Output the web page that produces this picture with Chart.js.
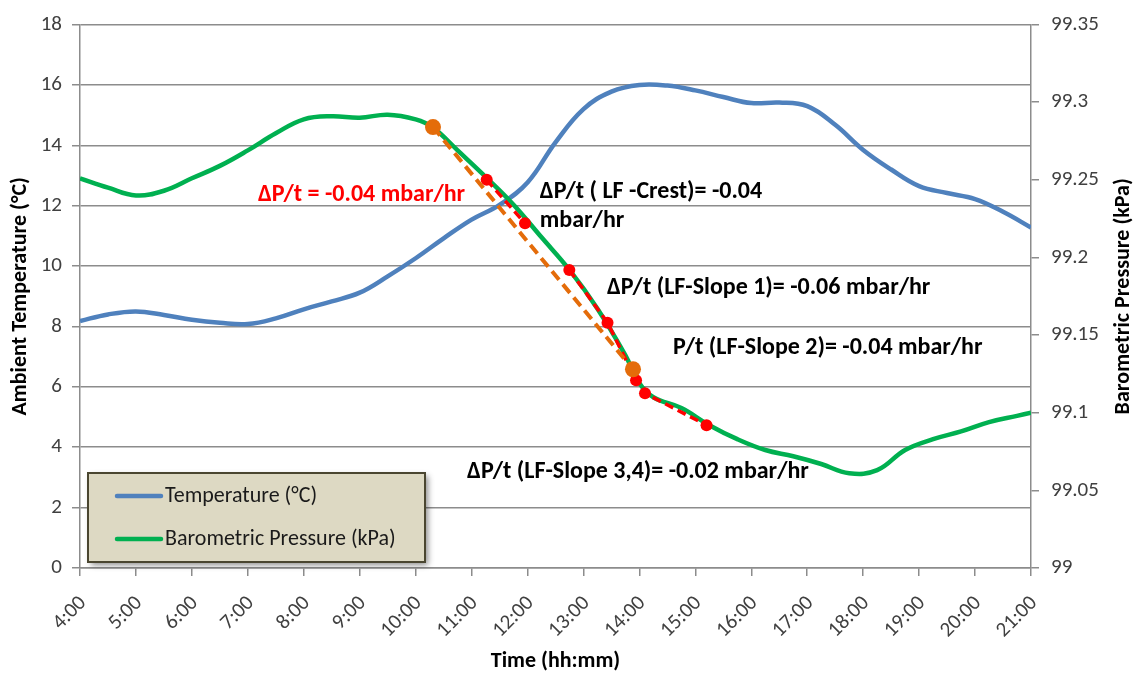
<!DOCTYPE html>
<html>
<head>
<meta charset="utf-8">
<script src="https://cdn.jsdelivr.net/npm/chart.js@4.4.1/dist/chart.umd.min.js"></script>
<style>
  html, body { margin: 0; padding: 0; background: #ffffff; }
  #wrap { width: 1136px; height: 675px; }
</style>
</head>
<body>
<div id="wrap"><canvas id="chart" width="1136" height="675"></canvas></div>
<script>
// ---- Data -------------------------------------------------------------
const timeTickLabels = ['4:00','5:00','6:00','7:00','8:00','9:00','10:00','11:00','12:00',
  '13:00','14:00','15:00','16:00','17:00','18:00','19:00','20:00','21:00'];
const tempTicks = [0, 2, 4, 6, 8, 10, 12, 14, 16, 18];
const pressureTicks = [99, 99.05, 99.1, 99.15, 99.2, 99.25, 99.3, 99.35];

// Ambient temperature (°C) against time of day (hours)
const tempHours = [4, 4.5, 5, 5.5, 6, 6.5, 7, 7.5, 8, 8.5, 9, 9.5, 10, 10.5, 11, 11.5, 12,
  12.5, 13, 13.5, 14, 14.5, 15, 15.5, 16, 16.5, 17, 17.5, 18, 18.5, 19, 19.5, 20, 20.5, 21];
const tempValues = [8.18, 8.40, 8.50, 8.38, 8.22, 8.12, 8.08, 8.27, 8.57, 8.83, 9.12, 9.66,
  10.26, 10.92, 11.54, 12.03, 12.77, 14.1, 15.2, 15.78, 16.0, 15.98, 15.82, 15.6, 15.4,
  15.42, 15.3, 14.68, 13.85, 13.2, 12.65, 12.42, 12.22, 11.8, 11.28];

// Barometric pressure (kPa) against time of day (hours)
const pressureHours = [4, 4.5, 5, 5.5, 6, 6.5, 7, 7.5, 8, 8.5, 9, 9.5, 10, 10.3, 10.75, 11.25,
  11.75, 12.25, 12.75, 13.25, 13.75, 14, 14.25, 14.75, 15.25, 15.75, 16.25, 16.75, 17.25,
  17.75, 18.25, 18.75, 19.25, 19.75, 20.25, 20.75, 21];
const pressureValues = [99.251, 99.245, 99.240, 99.243, 99.251, 99.259, 99.269, 99.280,
  99.289, 99.291, 99.290, 99.292, 99.289, 99.284, 99.269, 99.252, 99.234, 99.213, 99.192,
  99.167, 99.137, 99.119, 99.110, 99.103, 99.092, 99.083, 99.076, 99.072, 99.067, 99.061,
  99.063, 99.076, 99.083, 99.088, 99.094, 99.098, 99.100];

// Overall fit of the falling front (end points)
const frontFitHours = [10.31, 13.885];
const frontFitPressure = [99.284, 99.128];

// Segment fits: crest, slope 1, slope 2, slopes 3-4 (null breaks the line)
const segmentHours = [11.27, 11.955, 12.35, 12.747, 13.43, 13.94, 14.10, 15.20];
const segmentPressure = [99.250, 99.222, null, 99.192, 99.158, 99.121, 99.1125, 99.092];

// Rate annotations (placed in time / temperature-axis units)
const rateNotes = [
  { text: 'ΔP/t = -0.04 mbar/hr', hour: 7.18, level: 12.36, color: '#ff0000' },
  { text: 'ΔP/t ( LF -Crest)= -0.04', hour: 12.22, level: 12.46, color: '#000000' },
  { text: 'mbar/hr', hour: 12.22, level: 11.5, color: '#000000' },
  { text: 'ΔP/t (LF-Slope 1)= -0.06 mbar/hr', hour: 13.42, level: 9.26, color: '#000000' },
  { text: 'P/t (LF-Slope 2)= -0.04 mbar/hr', hour: 14.6, level: 7.29, color: '#000000' },
  { text: 'ΔP/t (LF-Slope 3,4)= -0.02 mbar/hr', hour: 10.92, level: 3.17, color: '#000000' }
];

const xTitle = 'Time (hh:mm)';
const leftTitle = 'Ambient Temperature (°C)';
const rightTitle = 'Barometric Pressure (kPa)';

// ---- Styling ----------------------------------------------------------
const FONT = "Carlito, Lato, 'Open Sans', sans-serif";
const GRID = '#8c8c8c';
const TICK_COLOR = '#404040';

const pairs = (xs, ys) => xs.map((x, i) => ({ x, y: ys[i] }));

// Rate labels drawn over the plot
const notesPlugin = {
  id: 'rateNotes',
  afterDatasetsDraw(chart) {
    const { ctx, scales } = chart;
    ctx.save();
    ctx.font = `bold 24px ${FONT}`;
    ctx.textBaseline = 'middle';
    ctx.textAlign = 'left';
    rateNotes.forEach(n => {
      ctx.fillStyle = n.color;
      ctx.fillText(n.text, scales.x.getPixelForValue(n.hour), scales.yT.getPixelForValue(n.level));
    });
    ctx.restore();
  }
};

// Right-hand axis title, reading bottom to top
const rightTitlePlugin = {
  id: 'rightTitle',
  afterDraw(chart) {
    const { ctx, chartArea } = chart;
    ctx.save();
    ctx.translate(1123, (chartArea.top + chartArea.bottom) / 2);
    ctx.rotate(-Math.PI / 2);
    ctx.font = `bold 22px ${FONT}`;
    ctx.fillStyle = '#000000';
    ctx.textAlign = 'center';
    ctx.textBaseline = 'middle';
    ctx.fillText(rightTitle, 0, 0);
    ctx.restore();
  }
};

// Boxed legend in the lower-left corner of the plot
const boxLegendPlugin = {
  id: 'boxLegend',
  afterDraw(chart) {
    const { ctx } = chart;
    const items = [chart.data.datasets[3], chart.data.datasets[2]];
    const bx = 88, by = 473, bw = 337, bh = 89;
    ctx.save();
    ctx.shadowColor = 'rgba(0,0,0,0.45)';
    ctx.shadowBlur = 6;
    ctx.shadowOffsetX = 3;
    ctx.shadowOffsetY = 3;
    ctx.fillStyle = '#ddd9c3';
    ctx.fillRect(bx, by, bw, bh);
    ctx.restore();
    ctx.save();
    ctx.strokeStyle = '#4a4630';
    ctx.lineWidth = 2;
    ctx.strokeRect(bx, by, bw, bh);
    ctx.font = `22px ${FONT}`;
    ctx.textBaseline = 'middle';
    ctx.textAlign = 'left';
    items.forEach((ds, i) => {
      const y = by + 23 + i * 43;
      ctx.strokeStyle = ds.borderColor;
      ctx.lineWidth = 4.5;
      ctx.lineCap = 'round';
      ctx.beginPath();
      ctx.moveTo(117, y);
      ctx.lineTo(161, y);
      ctx.stroke();
      ctx.fillStyle = '#1a1a1a';
      ctx.fillText(ds.label, 165, y);
    });
    ctx.restore();
  }
};

new Chart(document.getElementById('chart'), {
  type: 'line',
  data: {
    datasets: [
      {
        label: 'Front fit',
        data: pairs(frontFitHours, frontFitPressure),
        yAxisID: 'yP',
        borderColor: '#e46c0a',
        backgroundColor: '#e46c0a',
        borderWidth: 4,
        borderDash: [11, 6],
        pointRadius: 8,
        pointBorderWidth: 0,
        order: 0
      },
      {
        label: 'Segment fits',
        data: pairs(segmentHours, segmentPressure),
        yAxisID: 'yP',
        borderColor: '#ff0000',
        backgroundColor: '#ff0000',
        borderWidth: 3.5,
        borderDash: [9, 5],
        pointRadius: 6,
        pointBorderWidth: 0,
        spanGaps: false,
        order: 1
      },
      {
        label: 'Barometric Pressure (kPa)',
        data: pairs(pressureHours, pressureValues),
        yAxisID: 'yP',
        borderColor: '#00b050',
        borderWidth: 4.5,
        pointRadius: 0,
        tension: 0.4,
        order: 2
      },
      {
        label: 'Temperature (°C)',
        data: pairs(tempHours, tempValues),
        yAxisID: 'yT',
        borderColor: '#4f81bd',
        borderWidth: 4.5,
        pointRadius: 0,
        tension: 0.4,
        order: 3
      }
    ]
  },
  options: {
    responsive: false,
    animation: false,
    devicePixelRatio: 1,
    layout: { padding: { top: 22, left: 0, right: 0, bottom: 0 } },
    plugins: { legend: { display: false }, tooltip: { enabled: false } },
    scales: {
      x: {
        type: 'linear',
        min: 4,
        max: 21,
        afterBuildTicks: s => { s.ticks = timeTickLabels.map((_, i) => ({ value: 4 + i })); },
        afterFit: s => { s.height = 107; },
        grid: { drawOnChartArea: false, drawTicks: true, tickLength: 8, color: GRID, lineWidth: 1.5 },
        border: { display: true, color: GRID, width: 1.5 },
        ticks: {
          autoSkip: false,
          minRotation: 45,
          maxRotation: 45,
          padding: 15,
          labelOffset: 3,
          color: TICK_COLOR,
          font: { family: FONT, size: 21 },
          callback: (v, i) => timeTickLabels[i]
        },
        title: {
          display: true,
          text: xTitle,
          color: '#000000',
          font: { family: FONT, size: 22, weight: 'bold' },
          padding: { top: 0, bottom: 0 }
        }
      },
      yT: {
        position: 'left',
        min: 0,
        max: 18,
        afterBuildTicks: s => { s.ticks = tempTicks.map(v => ({ value: v })); },
        afterFit: s => { s.width = 80; },
        grid: { color: GRID, lineWidth: 1.5, tickLength: 8 },
        border: { display: true, color: GRID, width: 1.5 },
        ticks: {
          padding: 10,
          color: TICK_COLOR,
          font: { family: FONT, size: 21 },
          callback: v => String(v)
        },
        title: {
          display: true,
          text: leftTitle,
          color: '#000000',
          font: { family: FONT, size: 22, weight: 'bold' },
          padding: { top: 7, bottom: 0 }
        }
      },
      yP: {
        position: 'right',
        min: 99,
        max: 99.35,
        afterBuildTicks: s => { s.ticks = pressureTicks.map(v => ({ value: v })); },
        afterFit: s => { s.width = 105; },
        grid: { drawOnChartArea: false, drawTicks: true, tickLength: 8, color: GRID, lineWidth: 1.5 },
        border: { display: true, color: GRID, width: 1.5 },
        ticks: {
          padding: 12,
          color: TICK_COLOR,
          font: { family: FONT, size: 21 },
          callback: v => String(v)
        }
      }
    }
  },
  plugins: [notesPlugin, rightTitlePlugin, boxLegendPlugin]
});
</script>
</body>
</html>
